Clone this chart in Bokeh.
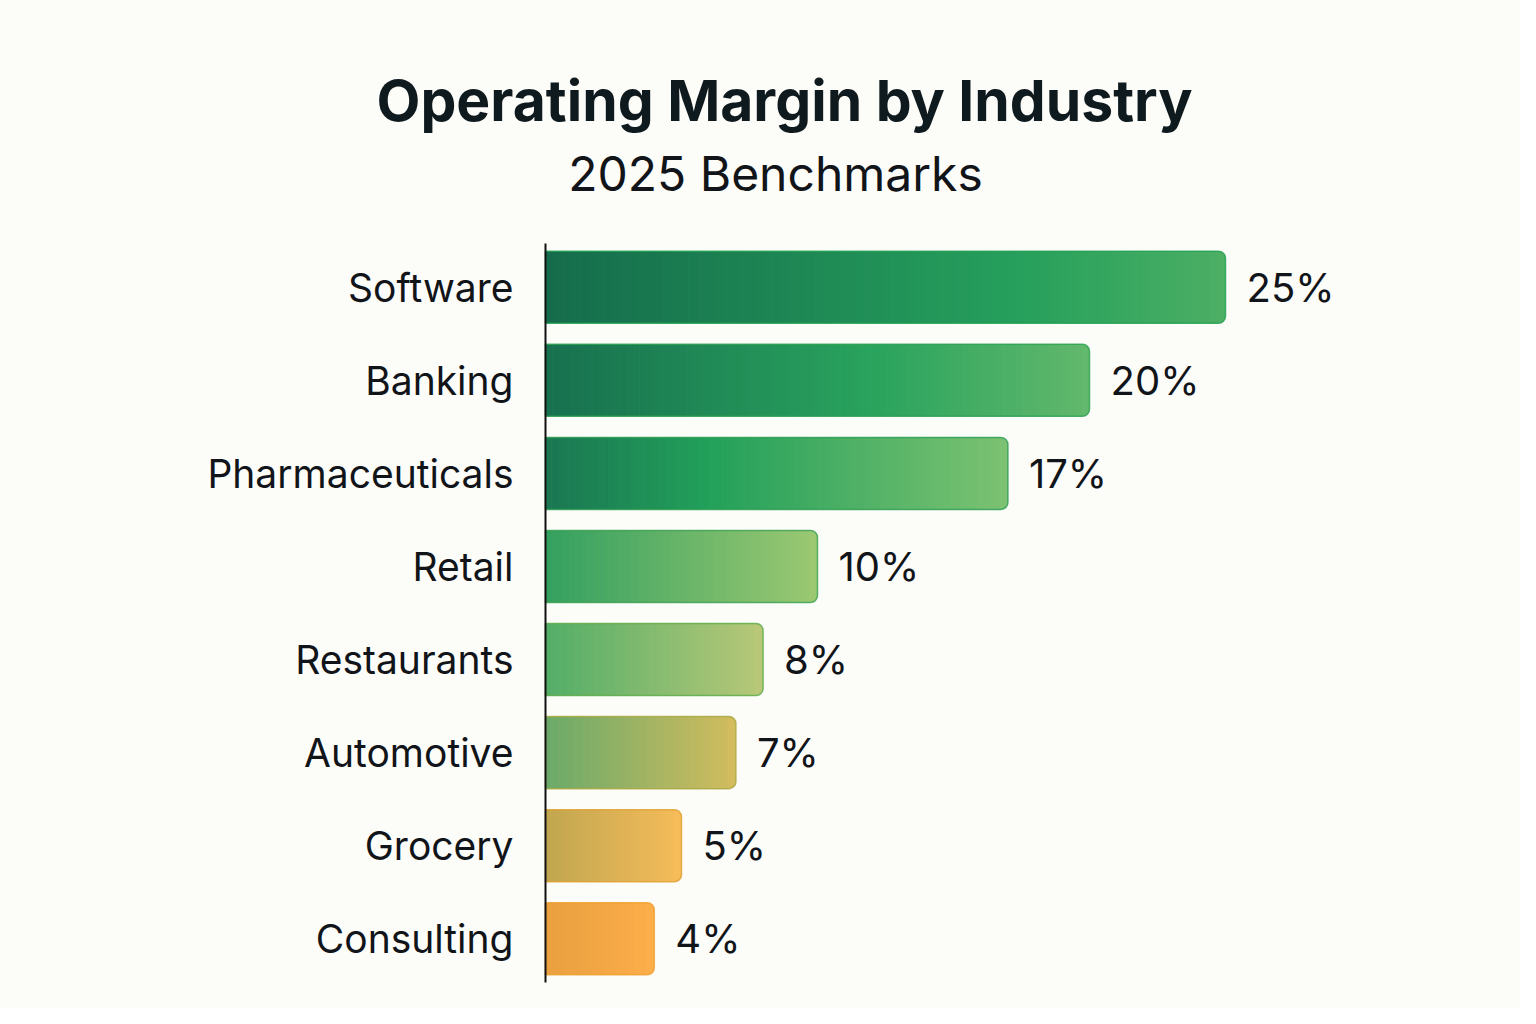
from bokeh.plotting import figure
from bokeh.models import Range1d
from bokeh.embed import file_html
from bokeh.resources import INLINE
from bokeh.core.properties import value

# ---- data ----
industries = ["Software", "Banking", "Pharmaceuticals", "Retail",
              "Restaurants", "Automotive", "Grocery", "Consulting"]
margins = [25, 20, 17, 10, 8, 7, 5, 4]
value_labels = ["25%", "20%", "17%", "10%", "8%", "7%", "5%", "4%"]

title_text = "Operating Margin by Industry"
subtitle_text = "2025 Benchmarks"

# ---- styles (gradient stops per bar) ----
stops = [
    [(0.0, "#156c4c"), (0.7, "#26a05c"), (1.0, "#4caf64")],
    [(0.0, "#17704f"), (0.6, "#29a35d"), (1.0, "#62b86c")],
    [(0.0, "#1a7652"), (0.35, "#22a05a"), (1.0, "#7cc272")],
    [(0.0, "#33a060"), (1.0, "#9cc872")],
    [(0.0, "#52ae68"), (1.0, "#b8c878")],
    [(0.0, "#6aaa6a"), (1.0, "#d2bc5e")],
    [(0.0, "#c0a650"), (1.0, "#f6bc5a")],
    [(0.0, "#e9a040"), (1.0, "#fcae4a")],
]
outline_colors = ["#22a050", "#2aa052", "#2c9e52", "#3aa050",
                  "#5aaa48", "#a8a840", "#e0a030", "#eea030"]

BG = "#fcfcf9"
TXT = "#111418"
FONT = "Inter"


def hex2rgb(h):
    h = h.lstrip("#")
    return tuple(int(h[i:i + 2], 16) for i in (0, 2, 4))


def interp(st, t):
    for (t0, c0), (t1, c1) in zip(st[:-1], st[1:]):
        if t <= t1:
            f = 0 if t1 == t0 else (t - t0) / (t1 - t0)
            a, b = hex2rgb(c0), hex2rgb(c1)
            return "#%02x%02x%02x" % tuple(int(round(a[k] + (b[k] - a[k]) * f)) for k in range(3))
    return st[-1][1]


W, HGT = 1520, 1008
PX_X = 27.2      # pixels per margin point
PX_Y = 93.07     # pixels per row
AX_X = 545       # pixel position of the zero line
ROW_TOP, ROW_BOT = 243, 982

n = len(industries)
ypos = [n - 1 - i for i in range(n)]
y_top = n - 1 + 0.47
y_bot = -0.47

x_range = Range1d(-AX_X / PX_X, (W - AX_X) / PX_X)
y_range = Range1d(y_bot - (HGT - ROW_BOT) / PX_Y, y_top + ROW_TOP / PX_Y)

p = figure(width=W, height=HGT, output_backend="svg", toolbar_location=None,
           x_range=x_range, y_range=y_range,
           x_axis_type=None, y_axis_type=None, min_border=0)
p.background_fill_color = BG
p.border_fill_color = BG
p.outline_line_color = None
p.grid.visible = False

H = 0.774
p.hbar(y=ypos, left=0, right=margins, height=H,
       fill_color=[s[-1][1] for s in stops], line_color=None,
       border_radius=(0, 7, 7, 0))

N = 80
L, R, T, B, C = [], [], [], [], []
for i, v in enumerate(margins):
    end = v - 0.3
    for k in range(N):
        L.append(end * k / N)
        R.append(min(end * (k + 1) / N + 0.02, end))
        T.append(ypos[i] + H / 2)
        B.append(ypos[i] - H / 2)
        C.append(interp(stops[i], (k + 0.5) / N * end / v))
p.quad(left=L, right=R, top=T, bottom=B, fill_color=C, line_color=None)

p.hbar(y=ypos, left=0, right=margins, height=H, fill_alpha=0,
       line_color=outline_colors, line_width=1.5, line_alpha=0.8,
       border_radius=(0, 7, 7, 0))

# value labels
p.text(x=margins, y=ypos, text=value_labels, x_offset=21,
       text_baseline="middle", text_align="left",
       text_font=value(FONT), text_font_size="40px", text_color=TXT)

# category labels (axis labels)
p.text(x=[0] * n, y=ypos, text=industries, x_offset=-32,
       text_baseline="middle", text_align="right",
       text_font=value(FONT), text_font_size="39px", text_color=TXT)

# axis line
p.segment(x0=[0], x1=[0], y0=[y_bot], y1=[y_top], line_color="#111111", line_width=2)

# titles
cx_title = (784 - AX_X) / PX_X
cx_sub = (775 - AX_X) / PX_X
p.text(x=[cx_title], y=[y_top + (ROW_TOP - 100) / PX_Y], text=[title_text],
       text_align="center", text_baseline="middle", text_font=value(FONT),
       text_font_size="57px", text_font_style="bold", text_color="#0f1a1f")
p.text(x=[cx_sub], y=[y_top + (ROW_TOP - 173) / PX_Y], text=[subtitle_text],
       text_align="center", text_baseline="middle", text_font=value(FONT),
       text_font_size="48px", text_color=TXT)

open("out.html", "w").write(file_html(p, INLINE))
